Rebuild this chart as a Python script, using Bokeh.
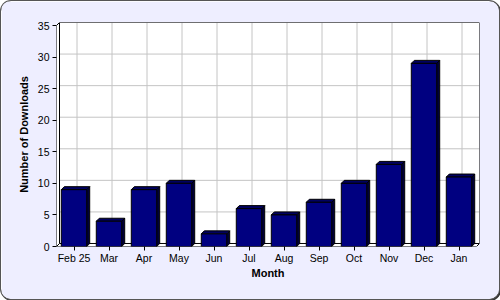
from bokeh.plotting import figure
from bokeh.models import Range1d, FixedTicker
from bokeh.embed import file_html
from bokeh.resources import INLINE

months = ["Feb 25", "Mar", "Apr", "May", "Jun", "Jul", "Aug", "Sep", "Oct", "Nov", "Dec", "Jan"]
downloads = [9, 4, 9, 10, 2, 6, 5, 7, 10, 13, 29, 11]
y_ticks = [0, 5, 10, 15, 20, 25, 30, 35]
y_max = 35

n = len(months)
# 3D depth (in data units) and bar half-width
dx = 3 / 35.0
dy = 0.476
hw = 0.363

BG = "#EEEEFF"
p = figure(width=498, height=298, output_backend="svg", toolbar_location=None,
           x_range=Range1d(0, n + dx), y_range=Range1d(0, y_max + dy),
           min_border_left=55, min_border_right=20, min_border_top=21, min_border_bottom=53,
           background_fill_color=BG, border_fill_color=BG,
           styles={"margin": "1px", "border-radius": "10px", "overflow": "hidden",
                   "box-shadow": "0 0 0 1px #555, 1px 1px 0 1px #333"})
p.outline_line_color = None
p.xgrid.visible = False
p.ygrid.visible = False

# back plane
p.quad(left=[dx], right=[n + dx], bottom=[dy], top=[y_max + dy], fill_color="white", line_color=None)
# grid on back plane
p.segment(x0=[dx] * len(y_ticks), x1=[n + dx] * len(y_ticks), y0=[v + dy for v in y_ticks],
          y1=[v + dy for v in y_ticks], line_color="#C4C4C4", line_width=1)
cx = [i + 0.5 for i in range(n)]
p.segment(x0=[c + dx for c in cx], x1=[c + dx for c in cx], y0=[dy] * n, y1=[y_max + dy] * n,
          line_color="#C4C4C4", line_width=1)
# back plane border top/right
p.line(x=[dx, n + dx, n + dx], y=[y_max + dy, y_max + dy, dy], line_color="black", line_width=1)
# left wall and floor
p.patch(x=[0, 0, dx, dx], y=[0, y_max, y_max + dy, dy], fill_color="white", line_color="black", line_width=1)
p.patch(x=[0, n, n + dx, dx], y=[0, 0, dy, dy], fill_color="white", line_color="black", line_width=1)

# 3D bars
xs_side, ys_side, xs_top, ys_top = [], [], [], []
for c, v in zip(cx, downloads):
    x0, x1 = c - hw, c + hw
    xs_side.append([x1, x1, x1 + dx, x1 + dx])
    ys_side.append([0, v, v + dy, dy])
    xs_top.append([x0, x1, x1 + dx, x0 + dx])
    ys_top.append([v, v, v + dy, v + dy])
p.patches(xs=xs_side, ys=ys_side, fill_color="#00003A", line_color="black", line_width=1)
p.patches(xs=xs_top, ys=ys_top, fill_color="#000060", line_color="black", line_width=1)
p.vbar(x=cx, width=2 * hw, top=downloads, bottom=0, fill_color="#000080", line_color="black", line_width=1)

# axes
p.xaxis.ticker = FixedTicker(ticks=cx)
p.xaxis.major_label_overrides = {c: m for c, m in zip(cx, months)}
p.yaxis.ticker = FixedTicker(ticks=y_ticks)
for ax in (p.xaxis[0], p.yaxis[0]):
    ax.axis_line_color = None
    ax.major_tick_line_color = "black"
    ax.major_tick_in = 0
    ax.major_tick_out = 4
    ax.minor_tick_line_color = None
    ax.major_label_text_font = "Liberation Sans"
    ax.major_label_text_font_size = "10.5px"
    ax.major_label_text_color = "black"
    ax.axis_label_text_font = "Liberation Sans"
    ax.axis_label_text_font_size = "11px"
    ax.axis_label_text_font_style = "bold"
    ax.axis_label_text_color = "black"
p.xaxis.axis_label = "Month"
p.yaxis.axis_label = "Number of Downloads"
p.xaxis.major_label_standoff = 1
p.xaxis.axis_label_standoff = 0
p.yaxis.major_label_standoff = 3
p.yaxis.axis_label_standoff = 5

open("out.html", "w").write(file_html(p, INLINE))
